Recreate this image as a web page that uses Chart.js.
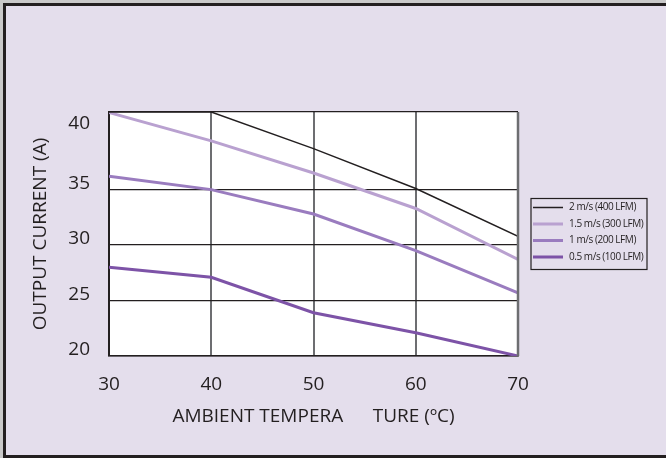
<!DOCTYPE html>
<html>
<head>
<meta charset="utf-8">
<script src="https://cdn.jsdelivr.net/npm/chart.js@4.4.1/dist/chart.umd.min.js"></script>
<style>
  html, body { margin: 0; padding: 0; background: #c9c9c9; }
  canvas { display: block; }
</style>
</head>
<body>
<canvas id="chartDerating" width="666" height="458"></canvas>
<script>
const TEMPS = [30, 40, 50, 60, 70];
const AIR_2MS = [42, 42, 38.7, 35.1, 30.8];
const AIR_15MS = [41.95, 39.4, 36.5, 33.3, 28.7];
const AIR_1MS = [36.2, 35.0, 32.8, 29.5, 25.7];
const AIR_05MS = [28.0, 27.1, 23.9, 22.1, 20.0];
const SERIES_LABELS = ['2 m/s (400 LFM)', '1.5 m/s (300 LFM)', '1 m/s (200 LFM)', '0.5 m/s (100 LFM)'];
const Y_TICK_VALUES = [20, 25, 30, 35, 40.4, 42];
const Y_TICK_LABELS = ['20', '25', '30', '35', '40', ''];

const INK = '#231f20';
const COLORS = ['#231f20', '#b9a1d0', '#9a7cbf', '#7d53a7'];
const WIDTHS = [1.5, 3, 3, 3];
const FONT = 'Open Sans';

const toPts = (vals) => vals.map((v, i) => ({ x: TEMPS[i], y: v }));

// lavender card with dark frame + white plot area
const framePlugin = {
  id: 'frame',
  beforeDraw(chart) {
    const ctx = chart.ctx;
    const a = chart.chartArea;
    ctx.save();
    ctx.fillStyle = '#c9c9c9';
    ctx.fillRect(0, 0, chart.width, chart.height);
    ctx.fillStyle = INK;
    ctx.fillRect(3, 3, chart.width - 3, chart.height - 3);
    ctx.fillStyle = '#e4deec';
    ctx.fillRect(6, 6, chart.width - 6, chart.height - 9);
    ctx.fillStyle = '#ffffff';
    ctx.fillRect(a.left, a.top, a.right - a.left, a.bottom - a.top);
    ctx.restore();
  },
  afterDraw(chart) {
    // right edge of the plot is a gray rule
    const ctx = chart.ctx;
    const a = chart.chartArea;
    ctx.save();
    ctx.strokeStyle = '#6d6e71';
    ctx.lineWidth = 2.5;
    ctx.beginPath();
    ctx.moveTo(a.right, a.top);
    ctx.lineTo(a.right, a.bottom);
    ctx.stroke();
    ctx.restore();
  }
};

// boxed legend at the right of the plot
const boxLegend = {
  id: 'boxLegend',
  afterDraw(chart) {
    const ctx = chart.ctx;
    const x0 = chart.chartArea.right + 13;
    const y0 = 198.5;
    ctx.save();
    ctx.strokeStyle = INK;
    ctx.lineWidth = 1.2;
    ctx.strokeRect(x0, y0, 116, 71);
    ctx.font = '10px "' + FONT + '"';
    if ('letterSpacing' in ctx) ctx.letterSpacing = '-0.45px';
    ctx.textBaseline = 'middle';
    ctx.fillStyle = INK;
    chart.data.datasets.forEach((ds, i) => {
      const y = y0 + 9 + i * 16.5;
      ctx.strokeStyle = ds.borderColor;
      ctx.lineWidth = ds.borderWidth;
      ctx.beginPath();
      ctx.moveTo(x0 + 2, y);
      ctx.lineTo(x0 + 32, y);
      ctx.stroke();
      ctx.fillText(ds.label, x0 + 38, y);
    });
    ctx.restore();
  }
};

const datasets = [AIR_2MS, AIR_15MS, AIR_1MS, AIR_05MS].map((vals, idx) => ({
  label: SERIES_LABELS[idx],
  data: toPts(vals),
  borderColor: COLORS[idx],
  backgroundColor: COLORS[idx],
  borderWidth: WIDTHS[idx],
  pointRadius: 0,
  tension: 0,
  order: idx
}));

new Chart(document.getElementById('chartDerating'), {
  type: 'line',
  data: { datasets: datasets },
  options: {
    responsive: false,
    animation: false,
    layout: { padding: { top: 112, right: 148, bottom: 0, left: 0 } },
    plugins: {
      legend: { display: false },
      tooltip: { enabled: false }
    },
    scales: {
      x: {
        type: 'linear', min: 30, max: 70,
        afterFit: (s) => { s.height = 102; },
        ticks: { stepSize: 10, padding: 17, color: INK, font: { family: FONT, size: 19 } },
        grid: { color: '#6d6e71', lineWidth: 2, drawTicks: false },
        border: { color: INK, width: 1.5 },
        title: {
          display: true, text: 'AMBIENT TEMPERA      TURE (ºC)', color: INK,
          font: { family: FONT, size: 19 }, padding: { top: 0, bottom: 30 }
        }
      },
      y: {
        type: 'linear', min: 20, max: 42,
        afterFit: (s) => { s.width = 109; },
        afterBuildTicks: (s) => { s.ticks = Y_TICK_VALUES.map(v => ({ value: v })); },
        ticks: {
          padding: 19, labelOffset: -6, color: INK, font: { family: FONT, size: 19 },
          callback: (value, index) => Y_TICK_LABELS[index]
        },
        grid: {
          drawTicks: false, lineWidth: 1.2,
          color: (c) => (c.tick && c.tick.value === 40.4) ? 'rgba(0,0,0,0)' : INK
        },
        border: { color: INK, width: 2 },
        title: {
          display: true, text: 'OUTPUT CURRENT (A)', color: INK,
          font: { family: FONT, size: 19 }, padding: { top: 29, bottom: 0 }
        }
      }
    }
  },
  plugins: [framePlugin, boxLegend]
});
</script>
</body>
</html>
